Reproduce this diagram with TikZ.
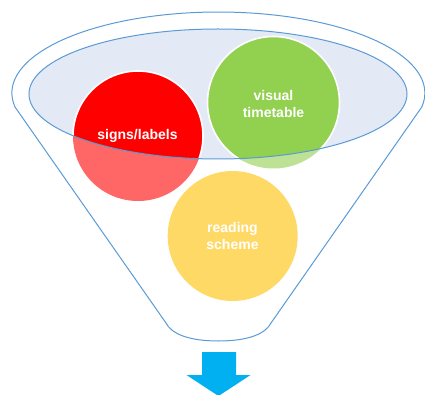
\documentclass[tikz,border=0pt]{standalone}
\usepackage{fontspec}
\setmainfont{Liberation Sans}
\definecolor{rimblue}{HTML}{5B9BD5}
\definecolor{mouthfill}{HTML}{E3EAF6}
\definecolor{ballred}{HTML}{FF0000}
\definecolor{ballgreen}{HTML}{92D050}
\definecolor{ballorange}{HTML}{FFC000}
\definecolor{arrowblue}{HTML}{00B0F0}
\begin{document}
\begin{tikzpicture}[x=1pt,y=-1pt,
  rim/.style={draw=rimblue, line width=1pt},
  ball/.style={draw=white, line width=1.6pt},
  lbl/.style={text=white, align=center, inner sep=0pt,
    font=\bfseries\fontsize{14}{17}\selectfont}]
\useasboundingbox (0,0) rectangle (425,395);

% funnel body: upper rim arc, sloping sides, rounded spout
\draw[rim, fill=white] (15,107)
  arc[start angle=189.95, end angle=-9.95, x radius=206.5pt, y radius=81pt]
  -- (271,323) .. controls (266,333) and (250,341) .. (218.5,341)
  .. controls (187,341) and (171,333) .. (166,323) -- cycle;

% mouth of the funnel
\fill[mouthfill] (218,94) ellipse [x radius=189pt, y radius=65pt];

% balls, faded where they hang below the mouth
\fill[ballred, fill opacity=0.6] (138,136) circle [radius=65pt];
\fill[ballgreen, fill opacity=0.6] (273.5,102.5) circle [radius=66pt];
\fill[ballorange, fill opacity=0.6] (232.7,236) circle [radius=65pt];

% full colour inside the mouth
\begin{scope}
  \clip (218,94) ellipse [x radius=189pt, y radius=65pt];
  \draw[ball, fill=ballred] (138,136) circle [radius=65pt];
  \draw[ball, fill=ballgreen] (273.5,102.5) circle [radius=66pt];
\end{scope}

% rim of the mouth
\draw[rim] (218,94) ellipse [x radius=189pt, y radius=65pt];

% labels
\node[lbl] (signs) at (137.5,136) {signs/labels};
\node[lbl] (visual) at (273.5,103.5) {visual\\timetable};
\node[lbl] (reading) at (232.5,236) {reading\\scheme};

% output arrow
\fill[arrowblue] (202,352) -- (236,352) -- (236,375) -- (250.5,375)
  -- (218.5,396) -- (186.5,375) -- (202,375) -- cycle;
\end{tikzpicture}
\end{document}
